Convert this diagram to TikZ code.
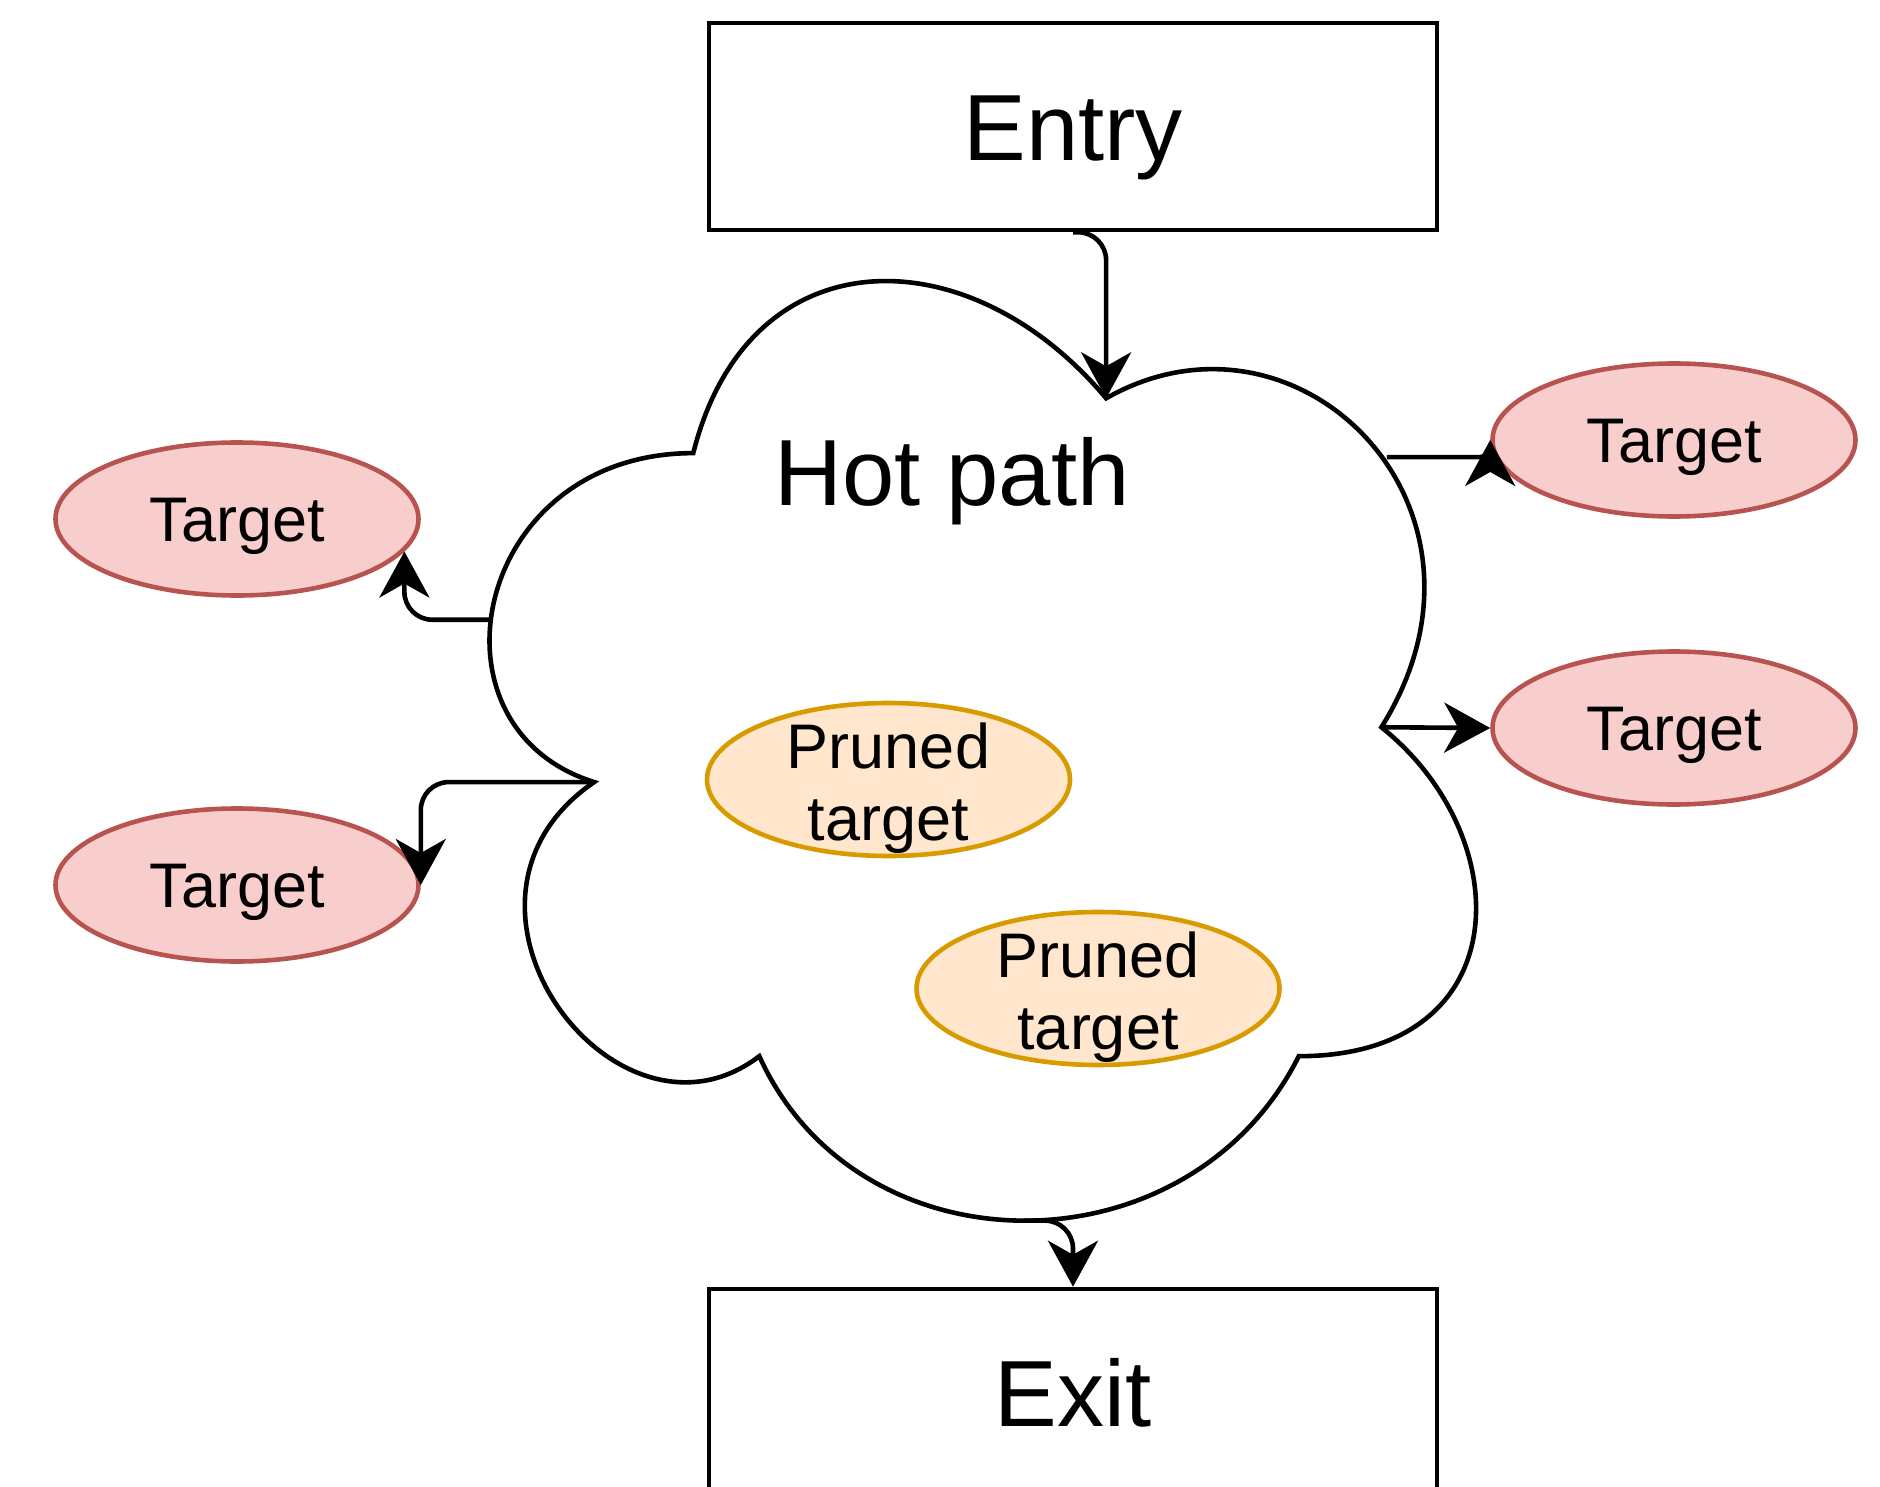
\documentclass[tikz,border=0pt]{standalone}
\usepackage{fontspec}
\setmainfont{Liberation Sans}
\usepackage{tikz}
\usetikzlibrary{arrows.meta,shapes.geometric}
\definecolor{tgtfill}{HTML}{F8CECC}
\definecolor{tgtline}{HTML}{B85450}
\definecolor{prnfill}{HTML}{FFE6CC}
\definecolor{prnline}{HTML}{D79B00}
\tikzset{
  big/.style={font=\fontsize{47pt}{56pt}\selectfont, text height=33.7pt, text depth=0pt},
  blk/.style={draw, line width=2.3pt, minimum width=364pt, minimum height=103.5pt, big},
  tgt/.style={ellipse, draw=tgtline, fill=tgtfill, line width=2.3pt, minimum width=181.5pt, minimum height=76.5pt, font=\fontsize{31.5pt}{37pt}\selectfont, text height=22.6pt, text depth=0pt},
  prn/.style={ellipse, draw=prnline, fill=prnfill, line width=2.3pt, minimum width=181.5pt, minimum height=76.5pt},
  ptxt/.style={font=\fontsize{31.5pt}{36pt}\selectfont, align=center, inner sep=0pt, yshift=-4.3pt},
  conn/.style={line width=2.3pt, -{Stealth[length=23pt,width=25pt,inset=7pt]}, rounded corners=14pt}
}
\begin{document}
\begin{tikzpicture}[x=0.5pt, y=-0.5pt]
\useasboundingbox (0,0) rectangle (1880,1487);
\begin{scope}[shift={(418,179)}, xscale=1101, yscale=1096.5]
  \draw[line width=2.3pt, fill=white] (0.25,0.25)
    .. controls (0.05,0.25) and (0,0.5) .. (0.16,0.55)
    .. controls (0,0.66) and (0.18,0.9) .. (0.31,0.8)
    .. controls (0.4,1) and (0.7,1) .. (0.8,0.8)
    .. controls (1,0.8) and (1,0.6) .. (0.875,0.5)
    .. controls (1,0.3) and (0.8,0.1) .. (0.625,0.2)
    .. controls (0.5,0.05) and (0.3,0.05) .. (0.25,0.25) -- cycle;
  \coordinate (cTop) at (0.625,0.2);
  \coordinate (cBot) at (0.55,0.95);
  \coordinate (cRT) at (0.88,0.2536);
  \coordinate (cRB) at (0.875,0.5);
  \coordinate (cLT) at (0.066,0.402);
  \coordinate (cLB) at (0.16,0.55);
\end{scope}
\node[big] (hotLbl) at (952,472) {Hot path};
\node[blk] (entry) at (1073,126.5) {Entry};
\node[blk] (exit) at (1073,1392.5) {Exit};
\node[tgt] (tgtLT) at (237,519) {Target};
\node[tgt] (tgtLB) at (237,885) {Target};
\node[tgt] (tgtRT) at (1674,440) {Target};
\node[tgt] (tgtRB) at (1674,728) {Target};
\node[prn] (prnA) at (888.5,779.5) {};
\node[ptxt] (prnAtxt) at (prnA) {Pruned\\target};
\node[prn] (prnB) at (1098,988.5) {};
\node[ptxt] (prnBtxt) at (prnB) {Pruned\\target};
\draw[conn] (entry.south) -| (cTop);
\draw[conn] (cBot) -| (exit.north);
\draw[conn, rounded corners=5pt] (cRT) -| (tgtRT.west);
\draw[conn] (cRB) -- (tgtRB.west);
\draw[conn] (cLT) -| (tgtLT.-11);
\draw[conn] (cLB) -| (tgtLB.east);
\end{tikzpicture}
\end{document}
